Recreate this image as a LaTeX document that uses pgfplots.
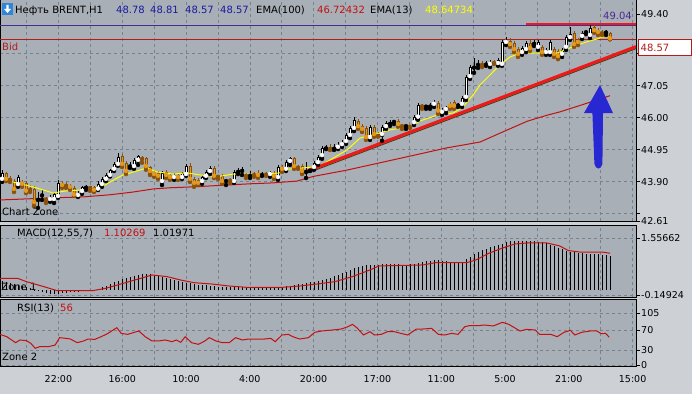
\documentclass[border=0pt]{standalone}
\usepackage{fontspec}
\setmainfont{DejaVu Sans}
\usepackage{pgfplots}
\pgfplotsset{compat=1.18}
\usepackage{pgfplotstable}

\definecolor{panelbg}{HTML}{A9AFB7}
\definecolor{outerbg}{HTML}{CDD1D6}
\definecolor{gridc}{HTML}{78828F}
\definecolor{bearfill}{HTML}{E39B1E}
\definecolor{bearedge}{HTML}{8A500C}
\definecolor{emared}{HTML}{C41010}
\definecolor{emayel}{HTML}{FFFF00}
\definecolor{trendred}{HTML}{F01818}
\definecolor{trendshadow}{HTML}{3A4418}
\definecolor{purp}{HTML}{4A2A94}
\definecolor{bidred}{HTML}{B41C1C}
\definecolor{hdrblue}{HTML}{1A1A9E}
\definecolor{arrowblue}{HTML}{2828D2}
\definecolor{iconblue}{HTML}{2F86D8}
\newcommand\f{\fontsize{10}{12}\selectfont}
\newcommand\ft{\fontsize{9.5}{11}\selectfont}

\pgfplotstableread{
i o h l c
0 43.96 44.29 43.89 44.19
1 44.19 44.22 43.92 43.96
2 43.99 44.09 43.89 43.96
3 43.93 43.99 43.56 43.63
4 43.79 44.12 43.73 44.06
5 43.89 43.96 43.73 43.80
6 43.86 43.92 43.53 43.57
7 43.70 43.79 43.56 43.63
8 43.66 43.76 43.10 43.20
9 43.30 43.56 43.04 43.37
10 43.45 43.63 43.30 43.50
11 43.33 43.40 43.20 43.30
12 43.30 43.47 43.24 43.40
13 43.30 43.56 43.20 43.50
14 43.40 43.96 43.37 43.86
15 43.86 43.92 43.70 43.76
16 43.82 43.89 43.70 43.76
17 43.79 43.83 43.63 43.70
18 43.68 43.76 43.43 43.45
19 43.43 43.60 43.40 43.52
20 43.56 43.76 43.50 43.73
21 43.70 43.79 43.63 43.74
22 43.75 43.76 43.60 43.69
23 43.73 43.76 43.56 43.60
24 43.64 43.92 43.63 43.84
25 43.79 44.06 43.73 43.99
26 43.96 44.19 43.92 44.12
27 44.09 44.32 44.07 44.29
28 44.29 44.55 44.25 44.48
29 44.45 44.84 44.42 44.71
30 44.74 44.81 44.38 44.45
31 44.51 44.58 44.15 44.22
32 44.40 44.55 44.35 44.46
33 44.38 44.68 44.32 44.61
34 44.58 44.78 44.45 44.74
35 44.71 44.74 44.52 44.64
36 44.68 44.71 44.29 44.38
37 44.38 44.42 44.12 44.22
38 44.22 44.28 44.06 44.12
39 44.19 44.25 43.99 44.06
40 43.89 44.25 43.79 44.19
41 44.22 44.29 44.02 44.09
42 44.12 44.19 43.96 44.02
43 44.02 44.19 43.96 44.12
44 44.12 44.19 43.96 44.02
45 44.02 44.22 43.99 44.19
46 44.12 44.48 44.09 44.42
47 44.42 44.52 43.89 43.96
48 43.99 44.06 43.73 43.83
49 43.96 44.02 43.79 43.83
50 43.89 44.12 43.83 44.06
51 44.06 44.29 44.02 44.22
52 44.22 44.42 44.15 44.35
53 44.35 44.42 44.02 44.06
54 44.09 44.12 43.99 44.06
55 44.09 44.15 43.83 43.89
56 43.92 43.99 43.79 43.96
57 43.96 44.02 43.86 43.93
58 43.89 44.29 43.86 44.22
59 44.22 44.35 44.15 44.28
60 44.25 44.38 44.12 44.32
61 44.15 44.19 44.02 44.09
62 44.09 44.25 44.02 44.15
63 44.15 44.22 44.06 44.12
64 44.19 44.28 44.02 44.09
65 44.12 44.22 44.09 44.16
66 44.16 44.22 44.09 44.13
67 44.12 44.25 44.06 44.22
68 44.19 44.25 43.99 44.06
69 44.02 44.45 43.96 44.38
70 44.38 44.45 44.22 44.29
71 44.29 44.61 44.25 44.55
72 44.55 44.71 44.45 44.68
73 44.68 44.71 44.32 44.38
74 44.40 44.45 44.32 44.36
75 44.42 44.48 44.15 44.22
76 44.22 44.55 44.02 44.28
77 44.26 44.38 44.25 44.30
78 44.35 44.58 44.29 44.51
79 44.51 44.78 44.45 44.71
80 44.74 45.07 44.65 45.01
81 44.99 45.10 44.97 45.03
82 45.04 45.14 44.94 44.97
83 44.98 45.14 44.94 45.04
84 45.01 45.20 44.97 45.10
85 45.10 45.27 45.04 45.20
86 45.20 45.50 45.14 45.43
87 45.40 45.73 45.33 45.66
88 45.63 46.02 45.56 45.93
89 45.89 45.96 45.63 45.69
90 45.73 45.79 45.53 45.60
91 45.66 45.73 45.27 45.33
92 45.33 45.76 45.27 45.69
93 45.69 45.76 45.37 45.43
94 45.46 45.53 45.38 45.40
95 45.43 45.76 45.24 45.69
96 45.69 45.89 45.63 45.82
97 45.79 45.93 45.73 45.86
98 45.86 45.93 45.79 45.89
99 45.89 45.96 45.70 45.76
100 45.76 45.79 45.63 45.72
101 45.72 45.76 45.63 45.75
102 45.74 45.76 45.66 45.70
103 45.82 46.09 45.76 46.02
104 46.00 46.48 45.93 46.42
105 46.41 46.45 46.29 46.37
106 46.36 46.42 46.29 46.40
107 46.36 46.48 46.29 46.42
108 46.42 46.58 46.35 46.52
109 46.49 46.55 46.12 46.20
110 46.16 46.32 46.09 46.25
111 46.25 46.38 46.15 46.35
112 46.45 46.52 46.29 46.36
113 46.52 46.58 46.29 46.36
114 46.40 46.48 46.35 46.44
115 46.42 46.71 46.35 46.65
116 46.65 47.40 46.58 47.33
117 47.33 47.73 47.27 47.66
118 47.64 47.96 47.47 47.71
119 47.73 47.89 47.63 47.77
120 47.77 47.86 47.66 47.73
121 47.74 47.86 47.70 47.77
122 47.73 47.89 47.66 47.82
123 47.82 47.89 47.76 47.79
124 47.76 47.96 47.70 47.89
125 47.73 48.55 47.70 48.48
126 48.45 48.65 48.38 48.55
127 48.52 48.61 48.32 48.38
128 48.45 48.52 48.15 48.22
129 48.25 48.32 47.99 48.06
130 48.12 48.35 48.06 48.29
131 48.22 48.52 48.15 48.45
132 48.45 48.55 48.19 48.25
133 48.42 48.55 48.35 48.48
134 48.29 48.55 48.22 48.48
135 48.32 48.38 48.06 48.12
136 48.12 48.29 48.06 48.22
137 48.12 48.55 48.06 48.48
138 48.25 48.32 47.99 48.06
139 48.19 48.25 47.92 47.99
140 48.06 48.29 47.99 48.22
141 48.29 48.71 48.22 48.65
142 48.61 48.97 48.55 48.75
143 48.78 48.84 48.32 48.38
144 48.55 48.61 48.38 48.45
145 48.65 48.84 48.58 48.78
146 48.80 48.88 48.74 48.84
147 48.68 49.04 48.61 48.94
148 48.97 49.04 48.78 48.84
149 48.88 48.94 48.71 48.78
150 48.80 48.88 48.71 48.77
151 48.79 48.88 48.71 48.82
152 48.78 48.81 48.57 48.57
}\candles

\pgfplotstableread{
i v
-0.5 43.96
2.75 43.89
7.75 43.73
12.75 43.53
16.25 43.60
20.25 43.63
23.75 43.63
27 43.89
30.25 44.12
33.75 44.25
36.25 44.35
38.75 44.22
42.75 44.15
46.25 44.19
49.5 44.12
53.75 44.06
57.75 44.15
62.75 44.15
66.25 44.15
69.5 44.19
72 44.32
75.25 44.35
77.75 44.38
79.5 44.42
82 44.61
86.25 44.94
89.5 45.33
93.75 45.47
97 45.60
102 45.70
104.5 45.89
109.5 46.12
112.75 46.15
115.25 46.35
117.75 46.74
119.5 47.07
122 47.40
124.5 47.73
127 47.99
129.5 48.12
133.75 48.12
138.75 48.12
141.25 48.25
143.75 48.38
147 48.52
148.75 48.58
150.25 48.65
152 48.65
}\emafast

\pgfplotstableread{
i v
-0.5 43.30
12.75 43.37
20.25 43.40
27 43.47
32.75 43.56
37.75 43.66
42 43.70
47.75 43.73
56.25 43.79
62 43.83
67.75 43.86
73.75 43.92
77.75 44.07
86.25 44.28
94.5 44.52
102.75 44.76
111.25 45.01
119.5 45.20
125 45.52
131.25 45.88
136.25 46.08
139.5 46.19
144.5 46.40
152 46.72
}\emaslow

\pgfplotstableread{
i v
0 0.26
1 0.24
2 0.22
3 0.19
4 0.16
5 0.12
6 0.08
7 0.05
8 0.01
9 -0.03
10 -0.06
11 -0.09
12 -0.11
13 -0.12
14 -0.11
15 -0.09
16 -0.08
17 -0.07
18 -0.06
19 -0.05
20 -0.04
21 -0.03
22 -0.01
23 0.01
24 0.04
25 0.08
26 0.13
27 0.18
28 0.23
29 0.28
30 0.32
31 0.36
32 0.39
33 0.42
34 0.45
35 0.47
36 0.48
37 0.47
38 0.45
39 0.42
40 0.39
41 0.36
42 0.33
43 0.30
44 0.27
45 0.24
46 0.22
47 0.20
48 0.18
49 0.16
50 0.15
51 0.14
52 0.12
53 0.11
54 0.10
55 0.10
56 0.09
57 0.09
58 0.09
59 0.09
60 0.10
61 0.10
62 0.10
63 0.10
64 0.10
65 0.10
66 0.10
67 0.10
68 0.10
69 0.10
70 0.10
71 0.11
72 0.13
73 0.15
74 0.17
75 0.19
76 0.21
77 0.23
78 0.25
79 0.28
80 0.31
81 0.34
82 0.37
83 0.41
84 0.45
85 0.50
86 0.55
87 0.60
88 0.65
89 0.69
90 0.72
91 0.74
92 0.75
93 0.76
94 0.76
95 0.77
96 0.77
97 0.77
98 0.77
99 0.77
100 0.76
101 0.76
102 0.77
103 0.78
104 0.80
105 0.83
106 0.86
107 0.88
108 0.90
109 0.90
110 0.88
111 0.86
112 0.84
113 0.83
114 0.83
115 0.85
116 0.92
117 1.00
118 1.08
119 1.14
120 1.19
121 1.24
122 1.28
123 1.31
124 1.34
125 1.39
126 1.43
127 1.46
128 1.47
129 1.47
130 1.46
131 1.46
132 1.46
133 1.46
134 1.45
135 1.43
136 1.40
137 1.36
138 1.32
139 1.27
140 1.22
141 1.18
142 1.15
143 1.13
144 1.11
145 1.10
146 1.09
147 1.09
148 1.09
149 1.08
150 1.06
151 1.04
152 1.02
}\macdhist

\pgfplotstableread{
i v
-0.5 0.35
3.9 0.35
6.1 0.25
10.5 0.10
13.8 -0.02
22.6 -0.02
25.9 0.05
30.3 0.20
34.7 0.35
37.5 0.45
41.3 0.40
44.6 0.30
48 0.22
52.4 0.18
56.8 0.12
61.2 0.08
70 0.08
74.4 0.12
78.8 0.18
83.2 0.25
87.6 0.40
92 0.60
94.2 0.72
105.2 0.75
108.5 0.82
116.2 0.82
118.5 0.90
121.7 1.10
125 1.25
128.3 1.38
131.7 1.41
136.1 1.41
139.4 1.32
141.6 1.18
144.9 1.13
150.4 1.13
152 1.10
}\macdsig

\pgfplotstableread{
i v
-0.5 61.9
1.2 57.2
3.4 45.1
4.5 50.5
6.1 49.1
7.2 43.8
8.3 33.7
9.4 37.0
11.6 37.0
13.3 40.4
14.4 55.2
16.0 53.8
17.1 52.5
18.8 45.1
20.4 48.5
21.5 52.5
23.2 51.8
24.8 57.2
26.5 63.9
28.7 75.4
29.8 63.9
31.4 61.9
33.1 66.0
34.2 68.7
35.8 57.2
37.5 48.5
39.1 48.5
40.8 50.5
42.5 47.1
43.6 50.5
44.7 45.8
45.8 57.2
47.4 45.1
49.1 41.7
50.7 48.5
51.8 55.2
53.5 48.5
55.1 45.1
56.8 45.1
58.4 55.2
60.1 50.5
61.7 52.5
65.6 52.5
67.2 53.8
68.3 47.1
70.0 60.6
71.6 61.9
72.7 57.2
74.4 52.5
76.6 55.2
78.2 66.0
79.9 68.7
82.6 70.7
84.8 72.7
86.5 77.4
87.6 82.1
88.7 75.4
90.4 60.6
92.0 67.3
93.1 60.6
94.8 61.9
96.4 67.3
98.1 67.3
99.7 63.9
101.4 60.6
103.6 72.7
105.2 72.7
107.4 74.0
109.1 61.9
110.7 60.6
112.4 63.9
114.0 61.9
115.7 77.4
116.8 79.4
119.0 79.4
120.6 80.8
122.8 78.8
125.1 86.2
126.7 82.1
128.4 74.0
129.5 68.7
131.1 72.0
133.3 70.7
134.4 61.9
137.2 61.9
138.8 57.2
140.5 66.0
142.1 70.0
143.2 60.6
144.9 66.0
147.1 68.7
148.7 68.7
149.8 63.3
150.9 63.9
151.8 56.0
}\rsi

\pgfplotsset{
  panel/.style={
    scale only axis, width=636pt,
    xmin=-0.5, xmax=158.5,
    axis background/.style={fill=panelbg},
    axis line style={black, line width=1pt},
    xtick={14.1,30.05,46,61.95,77.9,93.85,109.8,125.75,141.7,157.65},
    minor xtick={6.12,22.08,38.03,53.98,69.93,85.88,101.83,117.78,133.73,149.68},
    xticklabels={},
    xmajorgrids, xminorgrids, ymajorgrids,
    major grid style={gridc, line width=0.6pt, dash pattern=on 3pt off 3pt},
    minor grid style={gridc, line width=0.6pt, dash pattern=on 3pt off 3pt},
    xtick style={draw=none},
    minor tick length=0pt,
    ytick pos=right, yticklabel pos=right,
    tick align=outside,
    major tick length=4pt,
    ytick style={black, line width=0.6pt},
    yticklabel style={font=\ft, anchor=west, inner sep=1pt},
    xticklabel style={font=\ft, yshift=-1.5pt},
    clip=true,
  },
  wick/.style={only marks, mark=none, color=#1,
    /pgfplots/error bars/y dir=plus, /pgfplots/error bars/y explicit,
    /pgfplots/error bars/error mark=none,
    /pgfplots/error bars/error bar style={color=#1, line width=1pt}},
  body/.style 2 args={only marks, mark=none, color=#1,
    /pgfplots/error bars/y dir=plus, /pgfplots/error bars/y explicit,
    /pgfplots/error bars/error mark=none,
    /pgfplots/error bars/error bar style={color=#1, line width=#2}},
}

\begin{document}
\begin{tikzpicture}[x=1pt,y=1pt]
\useasboundingbox (0,0) rectangle (692,394);
\fill[outerbg] (0,0) rectangle (692,394);

% ===== main price panel =====
\begin{axis}[panel, at={(0pt,173pt)}, anchor=south west, height=221pt,
  ymin=42.61, ymax=49.859,
  ytick={42.85,43.90,44.95,46.00,47.05,48.10},
  yticklabels={,43.90,44.95,46.00,47.05,},
  extra y ticks={42.61,49.40},
  extra y tick labels={42.61,49.40},
  extra y tick style={grid=none}]
  \addplot[purp, line width=0.8pt] coordinates {(-0.5,49.04) (158.5,49.04)};
  \addplot[bidred, line width=0.8pt] coordinates {(-0.5,48.57) (158.5,48.57)};
  \addplot[emared, line width=1pt] table[x=i,y=v] {\emaslow};
  % bullish candles
  \addplot[restrict expr to domain={\thisrow{c}-\thisrow{o}}{0:10}, wick=black]
    table[x=i, y=l, y error expr=\thisrow{h}-\thisrow{l}] {\candles};
  \addplot[restrict expr to domain={\thisrow{c}-\thisrow{o}}{0:10}, body={black}{3pt}]
    table[x=i, y=o, y error expr=\thisrow{c}-\thisrow{o}] {\candles};
  \addplot[restrict expr to domain={\thisrow{c}-\thisrow{o}}{0.08:10}, body={white}{1pt}]
    table[x=i, y expr=\thisrow{o}+0.033, y error expr=\thisrow{c}-\thisrow{o}-0.066] {\candles};
  % bearish candles
  \addplot[restrict expr to domain={\thisrow{c}-\thisrow{o}}{-10:-0.0001}, wick=bearedge]
    table[x=i, y=l, y error expr=\thisrow{h}-\thisrow{l}] {\candles};
  \addplot[restrict expr to domain={\thisrow{c}-\thisrow{o}}{-10:-0.0001}, body={bearedge}{3pt}]
    table[x=i, y=c, y error expr=\thisrow{o}-\thisrow{c}] {\candles};
  \addplot[restrict expr to domain={\thisrow{c}-\thisrow{o}}{-10:-0.08}, body={bearfill}{1pt}]
    table[x=i, y expr=\thisrow{c}+0.033, y error expr=\thisrow{o}-\thisrow{c}-0.066] {\candles};
  \addplot[emayel, line width=1pt] table[x=i,y=v] {\emafast};
  % trend lines
  \addplot[trendshadow, line width=1pt, yshift=-2pt] coordinates {(75.75,44.22) (158.5,48.33)};
  \addplot[trendred, line width=3pt] coordinates {(75.75,44.22) (158.5,48.33)};
  \addplot[trendred, line width=2.5pt] coordinates {(131,49.075) (158.5,49.075)};
  % arrow
  \addplot[draw=none, fill=arrowblue] coordinates {(149.5,47.07) (152.75,46.15) (150.25,46.15) (150.1,44.48) (149.7,44.37) (149.1,44.33) (148.5,44.37) (148.1,44.48) (147.6,46.15) (145.5,46.15) (149.5,47.07)};
\end{axis}

% ===== MACD panel =====
\begin{axis}[panel, at={(0pt,97pt)}, anchor=south west, height=72pt,
  ymin=-0.209, ymax=1.945,
  ytick={-0.14924,1.55662}, yticklabels={-0.14924,1.55662}]
  \node[anchor=west, inner sep=0pt, font=\f] at (axis cs:-0.2,0.09) {Zone 1};
  \addplot[ycomb, black, line width=1pt, mark=none] table[x=i,y=v] {\macdhist};
  \addplot[emared, line width=1pt] table[x=i,y=v] {\macdsig};
\end{axis}

% ===== RSI panel =====
\begin{axis}[panel, at={(0pt,28pt)}, anchor=south west, height=67pt,
  ymin=-2.02, ymax=133.3,
  ytick={0,30,70,105}, yticklabels={0,30,70,105},
  xticklabels={22:00,16:00,10:00,4:00,20:00,17:00,11:00,5:00,21:00,15:00}]
  \addplot[emared, line width=1pt] table[x=i,y=v] {\rsi};
\end{axis}

% ===== texts =====
\fill[iconblue] (2,379) rectangle (13,391);
\fill[white] (6.3,389) -- (8.7,389) -- (8.7,385) -- (11,385) -- (7.5,381) -- (4,385) -- (6.3,385) -- cycle;
\node[anchor=base west, inner sep=0pt, font=\f] at (15,380.5) {Нефть BRENT,H1};
\node[anchor=base west, inner sep=0pt, font=\f, text=hdrblue] at (116,380.5) {48.78};
\node[anchor=base west, inner sep=0pt, font=\f, text=hdrblue] at (150,380.5) {48.81};
\node[anchor=base west, inner sep=0pt, font=\f, text=hdrblue] at (185,380.5) {48.57};
\node[anchor=base west, inner sep=0pt, font=\f, text=hdrblue] at (220,380.5) {48.57};
\node[anchor=base west, inner sep=0pt, font=\f] at (256,380.5) {EMA(100)};
\node[anchor=base west, inner sep=0pt, font=\f, text=emared] at (317,380.5) {46.72432};
\node[anchor=base west, inner sep=0pt, font=\f] at (370,380.5) {EMA(13)};
\node[anchor=base west, inner sep=0pt, font=\f, text=emayel] at (425,380.5) {48.64734};
\node[anchor=base east, inner sep=0pt, font=\f, text=purp] at (632,374.5) {49.04};
\node[anchor=base west, inner sep=0pt, font=\f, text=bidred] at (2,343.5) {Bid};
\node[anchor=base west, inner sep=0pt, font=\f] at (2,178.5) {Chart Zone};
\node[anchor=base west, inner sep=0pt, font=\f] at (17,157.5) {MACD(12,55,7)};
\node[anchor=base west, inner sep=0pt, font=\f, text=emared] at (104,157.5) {1.10269};
\node[anchor=base west, inner sep=0pt, font=\f] at (153,157.5) {1.01971};
\node[anchor=base west, inner sep=0pt, font=\f] at (17,82.5) {RSI(13)};
\node[anchor=base west, inner sep=0pt, font=\f, text=emared] at (60,82.5) {56};
\node[anchor=base west, inner sep=0pt, font=\f] at (2,33.5) {Zone 2};
% bid price box
\filldraw[fill=white, draw=bidred, line width=1pt] (638,338.5) rectangle (691.5,354.5);
\node[anchor=west, inner sep=0pt, font=\f, text=bidred] at (640.5,346.5) {48.57};
\end{tikzpicture}
\end{document}
